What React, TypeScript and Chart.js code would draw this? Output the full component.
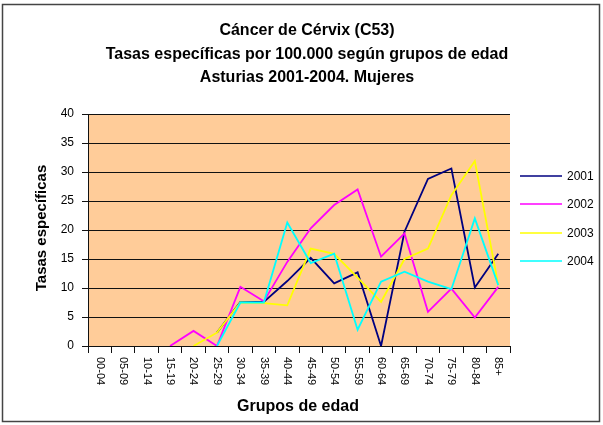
import React, { useEffect, useRef } from "react";
import { Chart, registerables } from "chart.js";

Chart.register(...registerables);

const categories = ["00-04", "05-09", "10-14", "15-19", "20-24", "25-29", "30-34", "35-39", "40-44", "45-49", "50-54", "55-59", "60-64", "65-69", "70-74", "75-79", "80-84", "85+"];
const seriesLabels = ["2001", "2002", "2003", "2004"];
const s2001 = [null, null, null, null, null, 2.3, 7.6, 7.6, 11.2, 15.2, 10.8, 12.7, 0, 19.7, 28.8, 30.6, 10.1, 15.9];
const s2002 = [null, null, null, 0, 2.6, 0, 10.2, 7.7, 14.5, 20.3, 24.3, 27.0, 15.4, 19.4, 5.9, 9.9, 4.9, 10.2];
const s2003 = [null, null, null, null, 0, 2.3, 7.5, 7.4, 7.0, 16.8, 15.9, 11.8, 7.6, 15.0, 16.8, 26.0, 31.9, 10.5];
const s2004 = [null, null, null, null, null, 0, 7.5, 7.5, 21.3, 14.3, 15.9, 2.8, 11.1, 12.8, 11.1, 9.8, 22.0, 10.5];
const yTicks = [0, 5, 10, 15, 20, 25, 30, 35, 40];
const titleLines = ["Cáncer de Cérvix (C53)", "Tasas específicas por 100.000 según grupos de edad", "Asturias 2001-2004. Mujeres"];
const yTitle = "Tasas específicas";
const xTitle = "Grupos de edad";

const colors = ["#000080", "#FF00FF", "#FFFF00", "#00FFFF"];
const FONT = '"Liberation Sans", Arial, sans-serif';

const decor = {
  id: "decor",
  beforeDraw(chart: any) {
    const { ctx, chartArea: a } = chart;
    ctx.save();
    ctx.fillStyle = "#ffffff";
    ctx.fillRect(0, 0, chart.width, chart.height);
    ctx.fillStyle = "#FFCC99";
    ctx.fillRect(a.left, a.top, a.right - a.left, a.bottom - a.top);
    ctx.restore();
  },
  afterDraw(chart: any) {
    const { ctx } = chart;
    ctx.save();
    // frame
    ctx.strokeStyle = "#444";
    ctx.lineWidth = 1.5;
    ctx.strokeRect(2.5, 4.5, 597, 417);
    // titles
    ctx.fillStyle = "#000";
    ctx.textAlign = "center";
    ctx.textBaseline = "middle";
    ctx.font = `bold 16px ${FONT}`;
    const ty = [31, 55, 78];
    titleLines.forEach((t, i) => ctx.fillText(t, 307, ty[i]));
    // x title
    ctx.font = `bold 16px ${FONT}`;
    ctx.fillText(xTitle, 298, 407);
    // y title
    ctx.save();
    ctx.translate(42, 228);
    ctx.rotate(-Math.PI / 2);
    ctx.font = `bold 15px ${FONT}`;
    ctx.fillText(yTitle, 0, 0);
    ctx.restore();
    // x tick labels, rotated clockwise
    const xs = chart.scales.x;
    ctx.font = `11px ${FONT}`;
    ctx.textAlign = "left";
    ctx.textBaseline = "middle";
    categories.forEach((c, i) => {
      const x = xs.getPixelForValue(i);
      ctx.save();
      ctx.translate(x, 357);
      ctx.rotate(Math.PI / 2);
      ctx.fillText(c, 0, 0);
      ctx.restore();
    });
    // legend
    const ly = [176, 204, 233, 261];
    ctx.font = `12px ${FONT}`;
    chart.data.datasets.forEach((ds: any, i: number) => {
      ctx.strokeStyle = ds.borderColor;
      ctx.lineWidth = 1.5;
      ctx.beginPath();
      ctx.moveTo(520, ly[i]);
      ctx.lineTo(562, ly[i]);
      ctx.stroke();
      ctx.fillStyle = "#000";
      ctx.textAlign = "left";
      ctx.fillText(ds.label, 567, ly[i] + 1);
    });
    ctx.restore();
  },
};

export default function App() {
  const ref = useRef<HTMLCanvasElement>(null);
  useEffect(() => {
    document.body.style.margin = "0";
    const series = [s2001, s2002, s2003, s2004];
    const chart = new Chart(ref.current!, {
      type: "line",
      data: {
        labels: categories,
        datasets: series.map((d, i) => ({
          label: seriesLabels[i],
          data: d,
          borderColor: colors[i],
          backgroundColor: colors[i],
          borderWidth: 1.8,
          pointRadius: 0,
          tension: 0,
          fill: false,
          order: 4 - i,
        })),
      },
      options: {
        animation: false,
        responsive: false,
        devicePixelRatio: 1,
        layout: { padding: { left: 0, top: 114, right: 93, bottom: 0 } },
        plugins: {
          legend: { display: false },
          title: { display: false },
          tooltip: { enabled: false },
        },
        scales: {
          x: {
            type: "category",
            offset: true,
            grid: { display: true, drawOnChartArea: false, drawTicks: true, tickLength: 7, offset: true, color: "#111", lineWidth: 1 },
            border: { display: true, color: "#111", width: 1 },
            ticks: { display: false },
            afterFit: (s: any) => { s.height = 79; },
          },
          y: {
            min: 0,
            max: 40,
            afterBuildTicks: (s: any) => { s.ticks = yTicks.map((v) => ({ value: v })); },
            ticks: { font: { family: FONT, size: 12 }, color: "#000", padding: 8 },
            grid: { color: "#111", lineWidth: 1, tickLength: 6 },
            border: { display: true, color: "#111", width: 1 },
            afterFit: (s: any) => { s.width = 88; },
          },
        },
      },
      plugins: [decor],
    });
    return () => chart.destroy();
  }, []);
  return (
    <div style={{ width: 603, height: 425 }}>
      <canvas ref={ref} width={603} height={425} style={{ display: "block" }} />
    </div>
  );
}
